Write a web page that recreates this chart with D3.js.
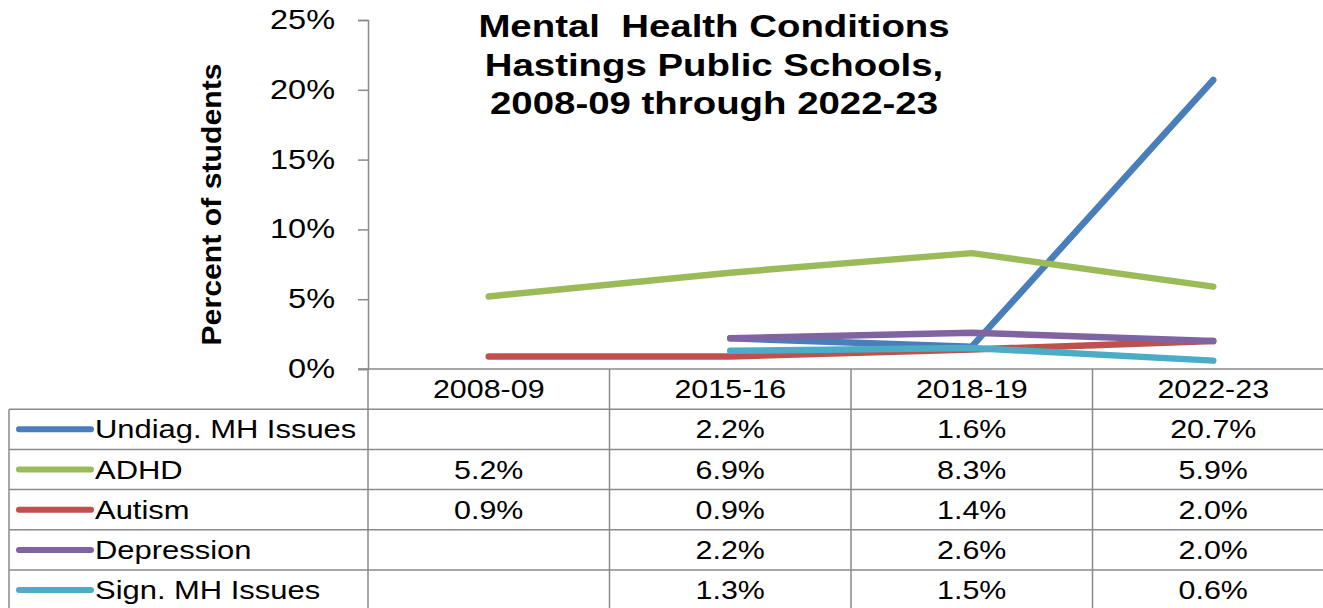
<!DOCTYPE html>
<html>
<head>
<meta charset="utf-8">
<script src="https://cdn.jsdelivr.net/npm/d3@7"></script>
<style>
  body { margin: 0; background: #fff; }
  svg { display: block; font-family: "Liberation Sans", Arial, sans-serif; }
</style>
</head>
<body>
<div id="chart"></div>
<script>
const years = ['2008-09', '2015-16', '2018-19', '2022-23'];
const seriesNames = ['Undiag. MH Issues', 'ADHD', 'Autism', 'Depression', 'Sign. MH Issues'];
const undiag = [null, 2.2, 1.6, 20.7];
const adhd = [5.2, 6.9, 8.3, 5.9];
const autism = [0.9, 0.9, 1.4, 2.0];
const depression = [null, 2.2, 2.6, 2.0];
const signMH = [null, 1.3, 1.5, 0.6];
const colors = ['#4a7ebb', '#9bbb59', '#c0504d', '#8064a2', '#4bacc6'];
const yTicks = [0, 5, 10, 15, 20, 25];

const allSeries = [undiag, adhd, autism, depression, signMH];

const width = 1323, height = 608;
const svg = d3.select('#chart').append('svg')
    .attr('width', width)
    .attr('height', height);

const x = d3.scaleBand().domain(years).range([368, 1334]);
const y = d3.scaleLinear().domain([0, 25]).range([369, 20]);

const gridColor = '#8a8a8a';
// the original text is a little wider than Liberation Sans, so stretch it
const stretch = 1.19;

// adds text at (tx, ty), widened horizontally
const wideText = (sel, tx, ty, k) => sel.append('text')
    .attr('transform', `translate(${tx},${ty}) scale(${k},1)`);

// y axis
const yAxis = svg.append('g')
    .attr('transform', 'translate(368,0)')
    .call(d3.axisLeft(y).tickValues(yTicks).tickSize(10).tickFormat(d => d + '%'));
yAxis.select('.domain').attr('stroke', gridColor).attr('stroke-width', 1.5);
yAxis.selectAll('.tick line').attr('stroke', gridColor).attr('stroke-width', 1.5);
yAxis.selectAll('.tick text')
    .attr('font-size', 28).attr('fill', '#000')
    .attr('font-family', '"Liberation Sans", Arial, sans-serif')
    .attr('x', -33 / 1.16)
    .attr('dy', '0.3em')
    .attr('transform', 'scale(1.16,1)');
// x axis line across the plot
svg.append('line')
    .attr('x1', 358).attr('x2', width)
    .attr('y1', y(0)).attr('y2', y(0))
    .attr('stroke', gridColor).attr('stroke-width', 1.5);

// axis title
svg.append('text')
    .attr('transform', `translate(221,${(y(0) + y(25)) / 2 + 10}) rotate(-90) scale(1.12,1)`)
    .attr('text-anchor', 'middle')
    .attr('font-size', 27).attr('font-weight', 'bold')
    .text('Percent of students');

// title
const titleLines = ['Mental  Health Conditions', 'Hastings Public Schools,', '2008-09 through 2022-23'];
titleLines.forEach((t, i) => {
    wideText(svg, 714, 37 + i * 38.5, 1.2)
        .attr('text-anchor', 'middle')
        .attr('font-size', 32).attr('font-weight', 'bold')
        .style('white-space', 'pre')
        .text(t);
});

// lines
const line = d3.line()
    .defined(d => d.v != null)
    .x(d => x(d.year) + x.bandwidth() / 2)
    .y(d => y(d.v));

svg.append('g').selectAll('path')
    .data(allSeries.map((vals, i) => ({ i, pts: years.map((yr, j) => ({ year: yr, v: vals[j] })) })))
    .enter().append('path')
    .attr('d', d => line(d.pts))
    .attr('fill', 'none')
    .attr('stroke', d => colors[d.i])
    .attr('stroke-width', 6.5)
    .attr('stroke-linecap', 'round')
    .attr('stroke-linejoin', 'round');

// data table
const rowH = 40.2;
const headTop = y(0);
const bodyTop = headTop + rowH;
const tableLeft = 9;
const table = svg.append('g');

// horizontal lines
d3.range(seriesNames.length + 1).forEach(k => {
    table.append('line')
        .attr('x1', tableLeft).attr('x2', width)
        .attr('y1', bodyTop + k * rowH).attr('y2', bodyTop + k * rowH)
        .attr('stroke', gridColor).attr('stroke-width', 1.5);
});
// vertical lines
table.append('line')
    .attr('x1', tableLeft).attr('x2', tableLeft)
    .attr('y1', bodyTop).attr('y2', height)
    .attr('stroke', gridColor).attr('stroke-width', 1.5);
years.forEach(yr => {
    table.append('line')
        .attr('x1', x(yr)).attr('x2', x(yr))
        .attr('y1', headTop).attr('y2', height)
        .attr('stroke', gridColor).attr('stroke-width', 1.5);
});

// header labels
years.forEach(yr => {
    wideText(table, x(yr) + x.bandwidth() / 2, headTop + rowH / 2 + 9, 1.17)
        .attr('text-anchor', 'middle')
        .attr('font-size', 26)
        .text(yr);
});

// rows
seriesNames.forEach((name, i) => {
    const cy = bodyTop + i * rowH + rowH / 2;
    table.append('line')
        .attr('x1', 19).attr('x2', 91)
        .attr('y1', cy).attr('y2', cy)
        .attr('stroke', colors[i]).attr('stroke-width', 6)
        .attr('stroke-linecap', 'round');
    wideText(table, 95, cy + 9, stretch)
        .attr('font-size', 26)
        .text(name);
    years.forEach((yr, j) => {
        const v = allSeries[i][j];
        if (v == null) return;
        wideText(table, x(yr) + x.bandwidth() / 2, cy + 9, 1.17)
            .attr('text-anchor', 'middle')
            .attr('font-size', 26)
            .text(v.toFixed(1) + '%');
    });
});
</script>
</body>
</html>
